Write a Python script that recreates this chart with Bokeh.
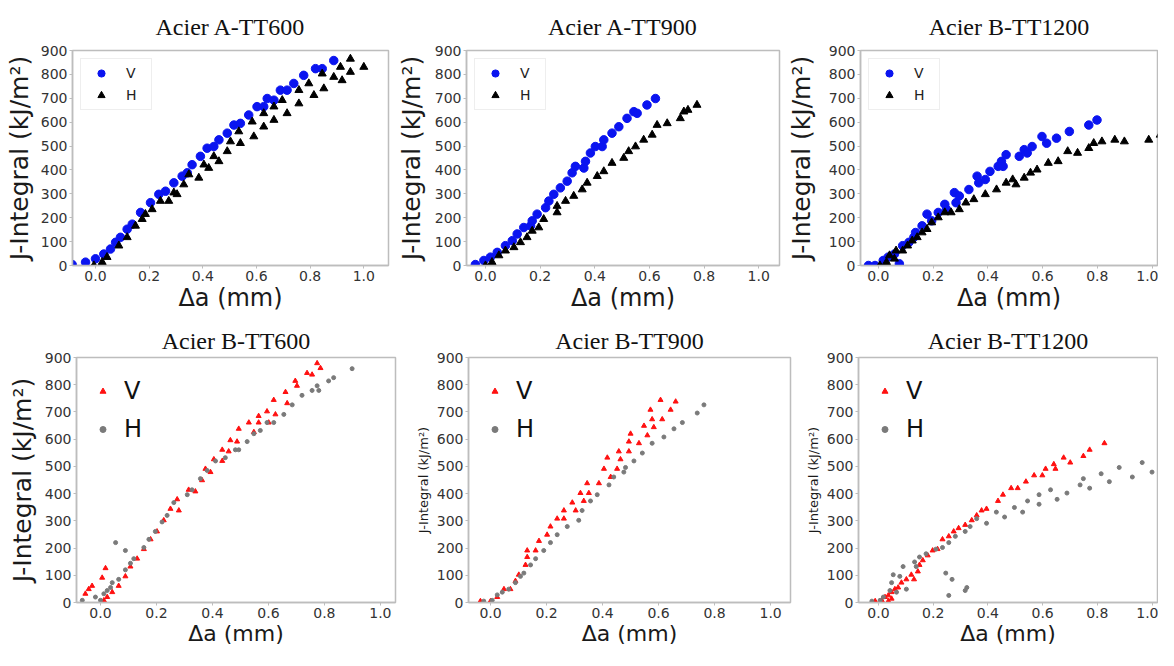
from bokeh.plotting import figure
from bokeh.layouts import column, row
from bokeh.models import Range1d, FixedTicker, PrintfTickFormatter
from bokeh.embed import file_html
from bokeh.resources import INLINE

# ---------------- data ----------------
titles = ["Acier A-TT600", "Acier A-TT900", "Acier B-TT1200",
          "Acier B-TT600", "Acier B-TT900", "Acier B-TT1200"]
x_ticks = [0.0, 0.2, 0.4, 0.6, 0.8, 1.0]
y_ticks = [0, 100, 200, 300, 400, 500, 600, 700, 800, 900]
y_label = "J-Integral (kJ/m²)"
x_label = "Δa (mm)"
series_names = ["V", "H"]

# Panel 1 : Acier A-TT600
a600_v_x = [-0.087, -0.037, 0.0, 0.031, 0.056, 0.075, 0.093, 0.118, 0.137, 0.168, 0.205, 0.236, 0.261,
            0.292, 0.323, 0.342, 0.360, 0.391, 0.416, 0.441, 0.460, 0.491, 0.516, 0.540, 0.571, 0.602,
            0.627, 0.640, 0.665, 0.689, 0.714, 0.739, 0.776, 0.820, 0.845, 0.888]
a600_v_y = [4, 14, 28, 48, 69, 97, 118, 152, 173, 222, 263, 298, 311, 346, 374, 388, 422, 457, 491, 498,
            526, 554, 588, 595, 630, 665, 665, 699, 692, 734, 734, 762, 796, 824, 824, 858]
a600_h_x = [-0.006, 0.025, 0.043, 0.087, 0.118, 0.149, 0.174, 0.186, 0.211, 0.242, 0.273, 0.292, 0.304,
            0.329, 0.348, 0.385, 0.404, 0.422, 0.441, 0.460, 0.491, 0.503, 0.534, 0.540, 0.584, 0.590,
            0.627, 0.627, 0.665, 0.665, 0.696, 0.714, 0.758, 0.758, 0.795, 0.814, 0.845, 0.851, 0.888,
            0.913, 0.919, 0.950, 0.950, 1.0]
a600_h_y = [0, 14, 35, 83, 118, 166, 194, 215, 235, 270, 270, 305, 298, 339, 381, 367, 422, 408, 457, 436,
            478, 519, 561, 512, 602, 540, 637, 581, 665, 609, 692, 637, 734, 678, 762, 713, 803, 741, 789,
            831, 775, 865, 810, 831]

# Panel 2 : Acier A-TT900
a900_v_x = [-0.037, -0.006, 0.018, 0.043, 0.073, 0.098, 0.116, 0.140, 0.165, 0.171, 0.189, 0.220, 0.232,
            0.250, 0.274, 0.299, 0.317, 0.329, 0.360, 0.366, 0.384, 0.402, 0.427, 0.433, 0.463, 0.488,
            0.518, 0.543, 0.555, 0.591, 0.622]
a900_v_y = [4, 21, 35, 55, 83, 104, 132, 159, 166, 187, 215, 242, 270, 298, 325, 353, 388, 415, 408, 436,
            471, 498, 498, 526, 554, 581, 616, 644, 637, 672, 699]
a900_h_x = [0.0, 0.024, 0.049, 0.073, 0.104, 0.128, 0.152, 0.171, 0.195, 0.213, 0.262, 0.262, 0.293,
            0.323, 0.354, 0.372, 0.409, 0.433, 0.463, 0.506, 0.524, 0.549, 0.579, 0.610, 0.628, 0.665,
            0.713, 0.726, 0.741, 0.774]
a900_h_y = [0, 14, 42, 62, 76, 97, 118, 145, 159, 194, 222, 249, 270, 291, 318, 346, 374, 394, 429, 450,
            478, 498, 526, 547, 588, 595, 616, 644, 651, 672]

# Panel 3 : Acier B-TT1200 (top)
b1200a_v_x = [-0.036, -0.012, 0.018, 0.036, 0.059, 0.077, 0.089, 0.112, 0.130, 0.136, 0.160, 0.178,
              0.195, 0.219, 0.243, 0.249, 0.278, 0.284, 0.296, 0.331, 0.361, 0.367, 0.391, 0.408, 0.438,
              0.450, 0.456, 0.467, 0.515, 0.533, 0.544, 0.562, 0.598, 0.615, 0.651, 0.698, 0.769, 0.799]
b1200a_v_y = [0, 0, 21, 35, 48, 7, 83, 97, 118, 138, 166, 215, 187, 222, 256, 235, 305, 263, 291, 318,
              374, 346, 360, 394, 415, 436, 415, 464, 457, 485, 471, 498, 540, 512, 533, 561, 588, 609]
b1200a_h_x = [0.006, 0.030, 0.041, 0.059, 0.065, 0.089, 0.107, 0.124, 0.142, 0.160, 0.178, 0.195, 0.219,
              0.243, 0.266, 0.296, 0.320, 0.349, 0.391, 0.432, 0.467, 0.491, 0.503, 0.533, 0.556, 0.580,
              0.621, 0.657, 0.692, 0.728, 0.769, 0.787, 0.817, 0.864, 0.899, 0.988, 1.030]
b1200a_h_y = [0, 14, 42, 28, 62, 62, 83, 104, 118, 138, 152, 180, 201, 222, 222, 235, 263, 277, 298, 318,
              346, 360, 339, 367, 388, 401, 429, 436, 478, 471, 491, 512, 519, 526, 519, 526, 547]

# Panel 4 : Acier B-TT600
b600_v_x = [-0.054, -0.042, -0.030, 0.006, 0.018, 0.012, 0.024, 0.042, 0.065, 0.089, 0.107, 0.131, 0.155,
            0.179, 0.202, 0.226, 0.250, 0.274, 0.280, 0.315, 0.339, 0.363, 0.375, 0.393, 0.405, 0.435,
            0.435, 0.464, 0.458, 0.488, 0.494, 0.530, 0.548, 0.565, 0.565, 0.595, 0.601, 0.619, 0.625,
            0.661, 0.667, 0.696, 0.702, 0.738, 0.756, 0.774, 0.786]
b600_v_y = [32, 49, 61, 91, 126, 8, 20, 38, 61, 96, 132, 161, 196, 232, 261, 302, 344, 379, 338, 414, 408,
            449, 491, 479, 526, 561, 520, 596, 555, 591, 638, 661, 626, 685, 661, 702, 661, 744, 691, 773,
            732, 814, 796, 843, 837, 879, 861]
b600_h_x = [-0.065, -0.018, 0.0, 0.012, 0.024, 0.036, 0.042, 0.054, 0.065, 0.089, 0.089, 0.107, 0.119,
            0.155, 0.173, 0.196, 0.220, 0.238, 0.262, 0.310, 0.327, 0.357, 0.381, 0.411, 0.446, 0.482,
            0.494, 0.524, 0.548, 0.571, 0.595, 0.619, 0.655, 0.685, 0.720, 0.756, 0.774, 0.780, 0.815,
            0.833, 0.899]
b600_h_y = [8, 20, 8, 32, 44, 55, 73, 220, 85, 120, 191, 144, 161, 202, 232, 261, 296, 320, 367, 396, 414,
            455, 485, 520, 532, 561, 561, 591, 620, 632, 661, 661, 691, 726, 761, 779, 796, 779, 814, 826,
            859]

# Panel 5 : Acier B-TT900
b900_v_x = [-0.036, 0.0, 0.024, 0.048, 0.071, 0.089, 0.101, 0.125, 0.131, 0.131, 0.161, 0.173, 0.202,
            0.214, 0.238, 0.262, 0.262, 0.292, 0.304, 0.321, 0.333, 0.345, 0.351, 0.387, 0.405, 0.417,
            0.429, 0.452, 0.458, 0.464, 0.494, 0.494, 0.500, 0.530, 0.548, 0.560, 0.571, 0.577, 0.583,
            0.607, 0.613, 0.643, 0.661]
b900_v_y = [5, 5, 20, 49, 49, 79, 102, 138, 167, 191, 191, 226, 249, 279, 308, 338, 308, 367, 338, 402,
            373, 438, 402, 438, 491, 532, 461, 491, 555, 526, 591, 555, 620, 585, 649, 614, 708, 673, 644,
            744, 673, 708, 738]
b900_h_x = [-0.024, 0.006, 0.024, 0.042, 0.065, 0.089, 0.107, 0.119, 0.143, 0.161, 0.190, 0.214, 0.238,
            0.274, 0.315, 0.327, 0.357, 0.381, 0.423, 0.440, 0.476, 0.482, 0.512, 0.542, 0.577, 0.619,
            0.655, 0.685, 0.738, 0.762]
b900_h_y = [5, 8, 28, 38, 49, 73, 96, 108, 138, 161, 191, 220, 249, 279, 302, 338, 373, 396, 432, 461,
            479, 496, 520, 549, 585, 608, 638, 661, 696, 726]

# Panel 6 : Acier B-TT1200 (bottom)
b1200b_v_x = [-0.012, 0.012, 0.024, 0.036, 0.048, 0.060, 0.072, 0.084, 0.102, 0.120, 0.144, 0.150, 0.162,
              0.180, 0.198, 0.216, 0.234, 0.257, 0.275, 0.293, 0.317, 0.341, 0.359, 0.377, 0.395, 0.437,
              0.455, 0.485, 0.509, 0.539, 0.569, 0.599, 0.611, 0.641, 0.647, 0.677, 0.701, 0.749, 0.772,
              0.826, 0.036, 0.048, 0.130]
b1200b_v_y = [5, 8, 20, 26, 38, 49, 55, 73, 85, 102, 114, 138, 155, 173, 191, 196, 232, 243, 261, 273,
              285, 302, 320, 338, 344, 373, 396, 420, 420, 444, 467, 467, 491, 508, 491, 532, 514, 538, 561,
              585, 5, 14, 85]
b1200b_h_x = [-0.024, 0.006, 0.018, 0.042, 0.048, 0.054, 0.066, 0.078, 0.090, 0.102, 0.132, 0.138, 0.150,
              0.174, 0.210, 0.234, 0.257, 0.246, 0.269, 0.257, 0.317, 0.323, 0.281, 0.317, 0.335, 0.359,
              0.395, 0.431, 0.461, 0.497, 0.527, 0.545, 0.587, 0.587, 0.629, 0.653, 0.689, 0.737, 0.749,
              0.772, 0.814, 0.844, 0.880, 0.928, 0.964, 1.0]
b1200b_h_y = [5, 8, 20, 44, 73, 102, 38, 96, 132, 49, 149, 132, 167, 179, 196, 202, 220, 108, 85, 26, 44,
              55, 243, 261, 279, 308, 291, 332, 314, 349, 332, 373, 361, 396, 414, 379, 402, 432, 455, 420,
              473, 444, 496, 461, 514, 479]

# ---------------- styling helpers ----------------
GRID_GRAY = "#bdbdbd"
TICK_TEXT = "#333333"
TOP_H, BOT_H = 322, 328
TOP_BORDER_T, TOP_BORDER_B = 48, 57
BOT_BORDER_T, BOT_BORDER_B = 34, 48


def make_panel(title, width, height, left, right, top, bottom, x_start, x_end,
               ylab_size, ylab_standoff, title_standoff, xlab_size):
    p = figure(width=width, height=height, output_backend="svg", toolbar_location=None,
               x_range=Range1d(x_start, x_end), y_range=Range1d(0, 900),
               min_border_left=left, min_border_right=right,
               min_border_top=top, min_border_bottom=bottom,
               title=title)
    p.title.text_font = "Liberation Serif"
    p.title.text_font_size = "24px"
    p.title.text_font_style = "normal"
    p.title.text_color = "#111111"
    p.title.align = "center"
    p.title.standoff = title_standoff
    p.grid.visible = False
    p.outline_line_color = GRID_GRAY
    p.outline_line_width = 1.5
    p.background_fill_color = "white"
    p.border_fill_color = "white"

    p.xaxis.ticker = FixedTicker(ticks=x_ticks)
    p.xaxis.formatter = PrintfTickFormatter(format="%.1f")
    p.yaxis.ticker = FixedTicker(ticks=y_ticks)
    for ax in (p.xaxis[0], p.yaxis[0]):
        ax.axis_line_color = GRID_GRAY
        ax.axis_line_width = 1.5
        ax.major_tick_line_color = GRID_GRAY
        ax.major_tick_out = 3
        ax.major_tick_in = 0
        ax.minor_tick_line_color = None
        ax.major_label_text_font = "DejaVu Sans"
        ax.major_label_text_font_size = "14px"
        ax.major_label_text_color = TICK_TEXT
        ax.major_label_standoff = 2
        ax.axis_label_text_font = "DejaVu Sans"
        ax.axis_label_text_font_style = "normal"
        ax.axis_label_text_color = "#1a1a1a"
    p.xaxis.axis_label = x_label
    p.xaxis.axis_label_text_font_size = xlab_size
    p.xaxis.axis_label_standoff = 0
    p.yaxis.axis_label = y_label
    p.yaxis.axis_label_text_font_size = ylab_size
    p.yaxis.axis_label_standoff = ylab_standoff
    return p


def style_top_legend(p):
    lg = p.legend[0]
    lg.location = "top_left"
    lg.margin = 8
    lg.padding = 5
    lg.spacing = 4
    lg.glyph_width = 30
    lg.glyph_height = 18
    lg.label_standoff = 10
    lg.label_text_font = "DejaVu Sans"
    lg.label_text_font_size = "14px"
    lg.label_text_color = "#222222"
    lg.border_line_color = "#dddddd"
    lg.border_line_width = 1
    lg.background_fill_color = "white"
    lg.background_fill_alpha = 0.9


def style_bottom_legend(p, frame_h):
    lg = p.legend[0]
    lg.padding = 10
    lg.spacing = 8
    lg.glyph_width = 15
    lg.glyph_height = 30
    lg.label_height = 30
    lg.label_standoff = 14
    lg.label_text_font = "DejaVu Sans"
    lg.label_text_font_size = "24px"
    lg.label_text_color = "#111111"
    lg.border_line_color = None
    lg.background_fill_alpha = 0.0
    lg.margin = 0
    legend_h = 2 * 10 + 30 + 8 + 30
    lg.location = (19, frame_h - legend_h)


def top_panel(title, width, left, right, x_start, x_end, ylab_standoff, vx, vy, hx, hy):
    p = make_panel(title, width, TOP_H, left, right, TOP_BORDER_T, TOP_BORDER_B, x_start, x_end,
                   "25px", ylab_standoff, 22, "24px")
    p.scatter(vx, vy, marker="circle", size=8.5, fill_color="#0a14f0", line_color="#0a14f0",
              legend_label=series_names[0])
    p.scatter(hx, hy, marker="triangle", size=8, fill_color="black", line_color="black",
              legend_label=series_names[1])
    style_top_legend(p)
    return p


def bottom_panel(title, width, left, right, x_start, x_end, ylab_size, ylab_standoff,
                 vx, vy, hx, hy):
    p = make_panel(title, width, BOT_H, left, right, BOT_BORDER_T, BOT_BORDER_B, x_start, x_end,
                   ylab_size, ylab_standoff, 7, "22px")
    p.scatter(vx, vy, marker="triangle", size=5, fill_color="#ff1010", line_color="#ff1010",
              legend_label=series_names[0])
    p.scatter(hx, hy, marker="circle", size=4, fill_color="#7a7a7a", line_color="#7a7a7a",
              legend_label=series_names[1])
    style_bottom_legend(p, BOT_H - BOT_BORDER_T - BOT_BORDER_B)
    return p


p1 = top_panel(titles[0], 392, 72, 4, -0.0857, 1.092, 4, a600_v_x, a600_v_y, a600_h_x, a600_h_y)
p2 = top_panel(titles[1], 390, 74, 3, -0.0695, 1.076, 6, a900_v_x, a900_v_y, a900_h_x, a900_h_y)
p3 = top_panel(titles[2], 376, 78, 1, -0.065, 1.02, 10, b1200a_v_x, b1200a_v_y, b1200a_h_x, b1200a_h_y)

p4 = bottom_panel(titles[3], 400, 76, 5, -0.0857, 1.054, "25px", 5,
                  b600_v_x, b600_v_y, b600_h_x, b600_h_y)
p5 = bottom_panel(titles[4], 394, 68, 4, -0.0786, 1.071, "13px", 3,
                  b900_v_x, b900_v_y, b900_h_x, b900_h_y)
p6 = bottom_panel(titles[5], 364, 64, 1, -0.073, 1.02, "13px", 3,
                  b1200b_v_x, b1200b_v_y, b1200b_h_x, b1200b_h_y)

layout = column(row(p1, p2, p3, spacing=0), row(p4, p5, p6, spacing=0), spacing=0)

open("out.html", "w").write(file_html(layout, INLINE))
